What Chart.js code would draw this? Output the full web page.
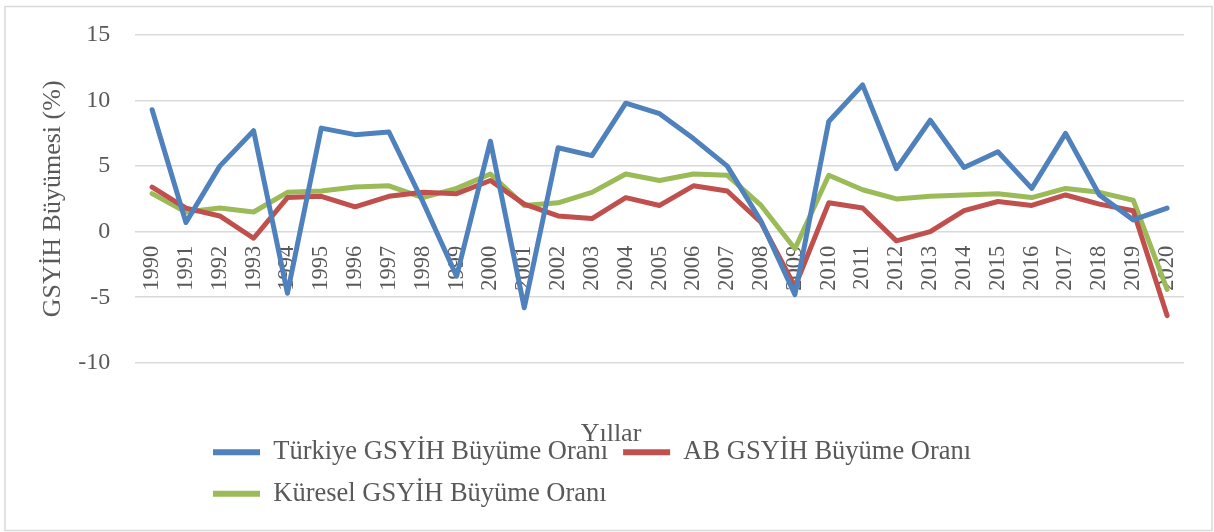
<!DOCTYPE html>
<html>
<head>
<meta charset="utf-8">
<script src="https://cdn.jsdelivr.net/npm/chart.js@4.4.0/dist/chart.umd.min.js"></script>
<style>
  body { margin: 0; background: #fff; }
</style>
</head>
<body>
<canvas id="chart" width="1214" height="532"></canvas>
<script>
const years = ['1990', '1991', '1992', '1993', '1994', '1995', '1996', '1997', '1998', '1999',
  '2000', '2001', '2002', '2003', '2004', '2005', '2006', '2007', '2008', '2009',
  '2010', '2011', '2012', '2013', '2014', '2015', '2016', '2017', '2018', '2019', '2020'];

const turkiye = [9.3, 0.7, 5.0, 7.7, -4.7, 7.9, 7.4, 7.6, 2.3, -3.4,
  6.9, -5.8, 6.4, 5.8, 9.8, 9.0, 7.1, 5.0, 0.8, -4.8,
  8.4, 11.2, 4.8, 8.5, 4.9, 6.1, 3.3, 7.5, 2.8, 0.9, 1.8];

const ab = [3.4, 1.8, 1.2, -0.5, 2.6, 2.7, 1.9, 2.7, 3.0, 2.9,
  3.9, 2.1, 1.2, 1.0, 2.6, 2.0, 3.5, 3.1, 0.7, -4.2,
  2.2, 1.8, -0.7, 0.0, 1.6, 2.3, 2.0, 2.8, 2.1, 1.6, -6.4];

const kuresel = [2.9, 1.5, 1.8, 1.5, 3.0, 3.1, 3.4, 3.5, 2.6, 3.3,
  4.4, 2.0, 2.2, 3.0, 4.4, 3.9, 4.4, 4.3, 2.0, -1.3,
  4.3, 3.2, 2.5, 2.7, 2.8, 2.9, 2.6, 3.3, 3.0, 2.4, -4.4];

const serif = "'Liberation Serif', 'Times New Roman', serif";
const textColor = '#595959';

// frame around the chart + legend shift so rows start at the same x as in Excel
const framePlugin = {
    id: 'frame',
    afterLayout(chart) {
        chart.legend.left = 198;
    },
    beforeDraw(chart) {
        const c = chart.ctx;
        c.save();
        c.fillStyle = '#fff';
        c.fillRect(0, 0, chart.width, chart.height);
        c.strokeStyle = '#d9d9d9';
        c.lineWidth = 1.5;
        c.strokeRect(5, 6.5, 1207, 524);
        c.restore();
    }
};

function lineSet(label, data, color) {
    return {
        label: label,
        data: data,
        borderColor: color,
        backgroundColor: color,
        borderWidth: 5,
        pointRadius: 0,
        tension: 0,
        borderCapStyle: 'round',
        borderJoinStyle: 'round',
        fill: false
    };
}

new Chart(document.getElementById('chart'), {
    type: 'line',
    data: {
        labels: years,
        datasets: [
            lineSet('Türkiye GSYİH Büyüme Oranı', turkiye, '#4f81bd'),
            lineSet('AB GSYİH Büyüme Oranı', ab, '#c0504d'),
            lineSet('Küresel GSYİH Büyüme Oranı', kuresel, '#9bbb59')
        ]
    },
    options: {
        responsive: false,
        animation: false,
        layout: {
            padding: { top: 35, left: 38, right: 30, bottom: 15 }
        },
        plugins: {
            tooltip: { enabled: false },
            title: {
                display: true,
                text: 'Yıllar',
                position: 'bottom',
                weight: 500,
                color: textColor,
                font: { family: serif, size: 26, weight: 'normal' },
                padding: { top: 56, bottom: -26 }
            },
            legend: {
                position: 'bottom',
                align: 'start',
                fullSize: false,
                labels: {
                    color: textColor,
                    font: { family: serif, size: 26.5 },
                    boxWidth: 47,
                    boxHeight: 6,
                    padding: 15,
                    useBorderRadius: true,
                    borderRadius: 3,
                    generateLabels(chart) {
                        return chart.data.datasets.map((ds, i) => ({
                            text: ds.label,
                            fillStyle: ds.borderColor,
                            strokeStyle: ds.borderColor,
                            lineWidth: 0,
                            fontColor: textColor,
                            datasetIndex: i,
                            hidden: false
                        }));
                    }
                }
            }
        },
        scales: {
            x: {
                position: { y: 0 },
                offset: true,
                grid: { display: false, drawTicks: false },
                border: { display: false },
                ticks: {
                    autoSkip: false,
                    minRotation: 90,
                    maxRotation: 90,
                    padding: 14,
                    color: textColor,
                    font: { family: serif, size: 22.5 }
                }
            },
            y: {
                min: -10,
                max: 15,
                // invisible tick marks give the label gap without padding the top
                grid: { color: '#d9d9d9', lineWidth: 1.5, drawTicks: true, tickLength: 20, tickColor: 'rgba(0,0,0,0)' },
                border: { display: false },
                ticks: {
                    stepSize: 5,
                    padding: 5,
                    color: textColor,
                    font: { family: serif, size: 24 }
                },
                title: {
                    display: true,
                    text: 'GSYİH Büyümesi (%)',
                    color: textColor,
                    font: { family: serif, size: 26 },
                    padding: { top: 0, bottom: 4 }
                }
            }
        }
    },
    plugins: [framePlugin]
});
</script>
</body>
</html>
